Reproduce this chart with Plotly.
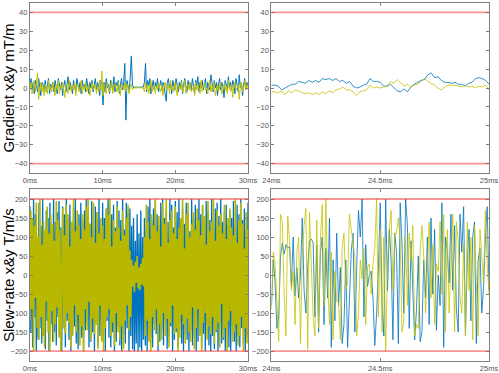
import plotly.graph_objects as go
from plotly.subplots import make_subplots

# Gradient, whole readout 0-30 ms (sample step 0.15 ms)
grad_step = 0.15
grad_x_full = [
    2, 5, -1, 3, -3, 4, 1, -2, 5, 0, -4, 3, 2, -1, 4, -2, 1, 5, -3, 2,
    0, 3, -2, 4, 1, -3, 5, 2, -1, 3, -4, 1, 4, -2, 2, 6, -1, 3, 0, -3,
    4, 1, -2, 5, 2, -1, 3, -3, 4, 0, 2, -2, 5, 1, -3, 3, 0, 4, -2, 2,
    5, -1, 3, 1, -4, 4, 2, -9, 3, -2, 5, 0, 2, -3, 4, 1, -1, 6, -2, 3,
    1, 4, -3, 2, 5, -1, 3, 13, -17, 4, 1, -2, 6, 17, 2, 0, 0.5, 0.3, 0.5, 0.4,
    0.5, 0.3, 0.6, 0.4, 0.5, 3, 13, -2, 4, 1, 5, -3, 2, 4, -1, 3, 0, 5, -2, 2,
    4, -1, 3, 1, -2, -7, 3, 5, 0, 2, -3, 4, 1, -1, 5, 2, -2, 3, 0, 4,
    -3, 2, 5, 1, -2, 4, 0, 3, -1, 5, 2, -3, 4, 1, 6, -2, 3, 0, 4, -1,
    2, 5, -3, 3, 1, -1, 7, 2, -2, 4, 0, 3, -4, 2, 5, -1, 3, 1, -5, 4,
    2, -2, 6, 0, 3, -1, 4, 2, -3, 5, 1, -2, 7, 0, 3, -4, 2, 5, -1, 3,
    1,
]
grad_y_full = [
    -1, 3, -3, 1, 4, -2, 2, 8, -6, 0, 3, -2, 1, -4, 2, 0, -3, 4, -1, 1,
    -2, 3, 0, -4, 2, -1, 4, -3, 1, 0, 3, -2, -5, 2, 1, -3, 4, 0, -2, 2,
    -1, 3, -4, 1, 2, -2, 0, 4, -3, 1, -1, 3, -2, 0, 2, -4, 1, 3, -1, 0,
    2, -3, 1, -2, 4, -1, 9, -4, 2, 0, -3, 3, 1, -2, 0, 4, -3, 1, 2, -1,
    -2, 3, 0, -4, 2, 1, -1, 3, -2, 2, 0, -3, 1, 2, -1, 0, 0.3, 0, 0.2, 0,
    0.3, 0.1, 0, 0.2, 0, -2, 3, -1, 2, -3, 1, 4, -2, 0, 2, -3, 1, -1, 3, 0,
    -2, 2, -4, 1, 3, -1, 0, 2, -3, 4, -1, 1, -2, 3, 0, -4, 2, 1, -1, 3,
    -2, 0, 4, -3, 1, 2, -1, 3, -2, 0, 1, -4, 3, -1, 2, 0, -3, 4, -2, 1,
    3, -1, 0, -3, 2, 4, -2, 1, -1, 3, -4, 0, 2, -2, 1, 3, -3, 0, 2, -1,
    1, -3, 4, 0, -2, 2, -5, 1, 3, -1, 0, 2, -6, 1, 3, -2, 0, 4, -1, 2,
    0,
]

# Gradient, zoom 24-25 ms
grad_x_zoom = [
    1.5, 1.5, 1, -1, 0, 1, 2, 2, 3.5, 3,
    2.5, 4, 3, 4, 3, 5, 4.5, 5, 4, 5,
    3.5, 4, 2.5, 3.5, 1, 0, 0.5, 1.5, 2, 5,
    3.5, 3.5, 3, 1, 1, 2, 0, -1.5, -2, -0.5,
    -2, 0.5, 2, 3, 4, 4.5, 7, 8, 5.5, 6,
    4, 3, 3, 2.5, 3, 2, 2, 1, 2.5, 3,
    5, 5.5, 5, 4, 2,
]
grad_y_zoom = [
    -2, -2, -2.5, -1.5, -3.5, -1.5, -2.5, -1, -1.5, -2.5,
    -3, -2.5, -3.5, -2.5, -3.5, -2, -3, -1.5, -2.5, -1,
    -0.5, 0.5, -1, -1, -2, -4, -2, -1.5, -1, 1.5,
    0, 0.5, 0, 0.5, 1, 3.5, 2.5, 4.5, 3, 1,
    2, 0.5, 1.5, 2, 3.5, 5, 3.5, 2.5, 1.5, 0,
    -1, 0.5, 1.5, 1.5, 1.5, 1, 0.5, 1.5, 0.5, 1,
    0, 1, 0.5, 1.5, -1,
]

# Slew-rate, whole readout 0-30 ms (sample step 0.125 ms)
slew_step = 0.125
slew_x_full = [
    180, -150, 120, -190, 200, -110, 160, -200, 90, -170, 190, -140, 130, -180, 200, -160, 110, -195, 170, -120,
    150, -200, 190, -130, 100, -175, 200, -150, 140, -185, 165, -110, 195, -160, 125, -200, 180, -140, 160, -190,
    200, -120, 145, -170, 185, -200, 115, -155, 175, -135, 200, -180, 130, -195, 160, -115, 190, -165, 140, -200,
    170, -145, 200, -125, 155, -190, 135, -175, 195, -150, 120, -200, 180, -130, 165, -185, 200, -160, 110, -170,
    190, -140, 150, -200, 175, -120, 200, -165, 135, -190, 160, -150, 185, -200, 125, -175, 195, -135, 170, -185,
    145, -200, 200, -155, 120, -180, 190, -140, 165, -200, 175, -160, 130, -195, 150, -200, 90, -180, 160, -200,
    110, -190, 170, -200, 100, -170, 150, -185, 120, -200, 180, -145, 200, -165, 140, -190, 175, -130, 195, -155,
    160, -200, 130, -175, 190, -145, 200, -185, 150, -120, 170, -195, 140, -160, 200, -135, 185, -200, 125, -170,
    195, -150, 165, -190, 200, -125, 145, -180, 175, -200, 135, -155, 190, -170, 160, -200, 115, -145, 200, -185,
    150, -165, 185, -200, 130, -175, 200, -140, 160, -190, 180, -155, 120, -200, 195, -130, 170, -185, 145, -200,
    200, -160, 135, -195, 175, -150, 190, -200, 155, -125, 200, -180, 140, -170, 165, -200, 185, -145, 130, -190,
    170, -200, 150, -135, 195, -175, 125, -200, 185, -160, 160, -190, 200, -140, 145, -180, 175, -200, 115, -165,
    190,
]
slew_y_full = [
    -120, 170, -90, 150, -200, 130, -60, 190, -140, 100, -170, 200, -110, 80, -160, 140, -190, 120, -70, 180,
    -150, 110, -200, 160, -95, 135, -175, 90, -130, 195, -85, 145, -165, 120, -200, 70, 175, -140, 105, -155,
    185, -100, 160, -125, 75, -190, 140, -160, 200, -80, 115, -150, 170, -105, 130, -185, 95, -135, 160, -200,
    120, -90, 180, -145, 200, -70, 135, -170, 100, -115, 190, -155, 85, -130, 165, -195, 110, -80, 150, -175,
    130, -200, 95, -140, 175, -110, 160, -90, 200, -160, 75, -125, 145, -185, 115, -100, 180, -150, 125, -170,
    90, -135, 170, -195, 105, -120, 150, -80, 185, -145, 65, -110, 40, -30, 25, -45, 35, -20, 50, -35,
    20, -40, 30, -25, 45, -30, 100, -160, 185, -120, 140, -175, 95, -200, 160, -110, 130, -145, 200, -90,
    115, -185, 155, -130, 75, -170, 190, -100, 135, -160, 200, -115, 85, -190, 145, -125, 170, -80, 110, -155,
    180, -140, 95, -200, 125, -165, 150, -105, 200, -130, 70, -180, 160, -115, 190, -150, 100, -175, 135, -85,
    165, -195, 120, -140, 175, -90, 145, -160, 105, -200, 185, -125, 155, -100, 80, -170, 195, -135, 115, -155,
    140, -110, 200, -180, 90, -145, 170, -125, 130, -190, 160, -75, 110, -165, 185, -140, 95, -200, 150, -120,
    175, -95, 125, -175, 105, -150, 200, -130, 85, -185, 145, -160, 190, -110, 135, -200, 70, -140, 165, -180,
    120,
]

# Slew-rate, zoom 24-25 ms
slew_x_zoom = [
    -80, 40, -20, -140, -110, 50, 85, 55, 80, 70,
    75, -30, 100, -55, 20, -60, 0, 150, -40, -100,
    20, 90, 95, 85, -110, 80, -150, 60, 100, -130,
    70, -60, 150, -190, 40, -120, 110, -80, 20, -180,
    -130, 40, -190, -80, 60, 110, -150, 20, 170, 100,
    200, -110, 80, -30, 0, 10, -60, -185, -100, 20,
    190, -80, -160, 200, -40, 120, 40, -170, 110, 60,
    -180, 190, 80, -100, 200, 130, -140, 90, -60, -170,
    -90, 50, -175, -150, 40, -60, 100, -130, 150, -50,
    120, -145, 0, -80, 190, -190, 100, 60, -20, 160,
    -40, 130, -90, -150, 160, 60, 180, -160, 40, 120,
    -120, 100, 140, -180, 40, 70, -100, -30, 100, 180,
    -40,
]
slew_y_zoom = [
    -90, 60, 30, -60, -175, 160, 140, -50, -160, 155,
    90, -40, 10, -130, 60, 100, -180, 50, 130, 175,
    -195, 165, 50, -110, -160, 145, -140, 90, 185, -80,
    200, -20, -130, 60, -170, 10, -70, -70, -170, 70,
    110, -40, -20, 160, 120, 90, 50, -160, -100, 40,
    -10, 70, -130, 20, 30, -50, 30, 70, 200, -110,
    120, -150, 100, -200, 30, 120, 170, -40, 110, 110,
    150, 90, -150, -120, 100, -80, 110, 40, 130, -160,
    -130, -140, 60, 130, 50, -100, 10, 140, -60, 80,
    -130, 30, 10, 140, -50, 160, -150, 120, -100, 40,
    160, -150, 140, 90, -60, -100, 80, -160, 140, -40,
    100, -170, 130, -20, -160, 120, 50, -20, 170, 30,
    -50,
]

zoom_start, zoom_end = 24, 25
grad_limit = 40
slew_limit = 200

full_ticks = [0, 10, 20, 30]
zoom_ticks = [24, 24.5, 25]

blue = '#0072BD'
yellow = '#C4C400'
axis_col = '#808080'

fig = make_subplots(rows=2, cols=2)

zoom_dx_g = (zoom_end - zoom_start) / (len(grad_x_zoom) - 1)
zoom_dx_s = (zoom_end - zoom_start) / (len(slew_x_zoom) - 1)

fig.add_trace(go.Scatter(y=grad_x_full, x0=0, dx=grad_step, mode='lines',
                         line=dict(color=blue, width=1)), row=1, col=1)
fig.add_trace(go.Scatter(y=grad_y_full, x0=0, dx=grad_step, mode='lines',
                         line=dict(color=yellow, width=1)), row=1, col=1)
fig.add_trace(go.Scatter(y=grad_x_zoom, x0=zoom_start, dx=zoom_dx_g, mode='lines',
                         line=dict(color=blue, width=0.8)), row=1, col=2)
fig.add_trace(go.Scatter(y=grad_y_zoom, x0=zoom_start, dx=zoom_dx_g, mode='lines',
                         line=dict(color=yellow, width=0.8)), row=1, col=2)
fig.add_trace(go.Scatter(y=slew_x_full, x0=0, dx=slew_step, mode='lines',
                         line=dict(color=blue, width=1.3)), row=2, col=1)
fig.add_trace(go.Scatter(y=slew_y_full, x0=0, dx=slew_step, mode='lines',
                         line=dict(color='#B8B800', width=1.6)), row=2, col=1)
fig.add_trace(go.Scatter(y=slew_x_zoom, x0=zoom_start, dx=zoom_dx_s, mode='lines',
                         line=dict(color=blue, width=0.8)), row=2, col=2)
fig.add_trace(go.Scatter(y=slew_y_zoom, x0=zoom_start, dx=zoom_dx_s, mode='lines',
                         line=dict(color=yellow, width=0.8)), row=2, col=2)

# hardware limits
red = 'rgba(240,60,60,0.55)'
for col in (1, 2):
    for lim in (grad_limit, -grad_limit):
        fig.add_hline(y=lim, line=dict(color=red, width=1.8), row=1, col=col)
    for lim in (slew_limit, -slew_limit):
        fig.add_hline(y=lim, line=dict(color=red, width=1.8), row=2, col=col)

ax_common = dict(showline=True, mirror='ticks', linecolor=axis_col, linewidth=1,
                 ticks='inside', ticklen=3, tickcolor=axis_col, showgrid=False,
                 zeroline=False, automargin=False,
                 tickfont=dict(size=7.5, color='#555555'))

x_full = dict(ax_common, range=[0, 30], tickmode='array', tickvals=full_ticks,
              ticktext=[f'{t}ms' for t in full_ticks])
x_zoom = dict(ax_common, range=[zoom_start, zoom_end], tickmode='array', tickvals=zoom_ticks,
              ticktext=[f'{t}ms' for t in zoom_ticks])

left_dom = [0.060, 0.497]
right_dom = [0.544, 0.980]
top_dom = [0.536, 0.992]
bot_dom = [0.032, 0.493]

fig.update_layout(
    width=499, height=373,
    margin=dict(l=0, r=0, t=0, b=0),
    showlegend=False,
    plot_bgcolor='white', paper_bgcolor='white',
    font=dict(family='Liberation Sans'),
    xaxis=dict(x_full, domain=left_dom),
    xaxis2=dict(x_zoom, domain=right_dom),
    xaxis3=dict(x_full, domain=left_dom),
    xaxis4=dict(x_zoom, domain=right_dom),
    yaxis=dict(ax_common, domain=top_dom, range=[-45, 45], dtick=10,
               title=dict(text='Gradient x&y mT/m', font=dict(size=15, color='black'), standoff=2)),
    yaxis2=dict(ax_common, domain=top_dom, range=[-45, 45], dtick=10),
    yaxis3=dict(ax_common, domain=bot_dom, range=[-226, 226], dtick=50,
                title=dict(text='Slew-rate x&y T/m/s', font=dict(size=15, color='black'), standoff=2)),
    yaxis4=dict(ax_common, domain=bot_dom, range=[-226, 226], dtick=50),
)

# the page's default body margin would shift the whole figure by 8px
fig.write_html("out.html", config={'displayModeBar': False},
               post_script="document.body.style.margin='0px';")
